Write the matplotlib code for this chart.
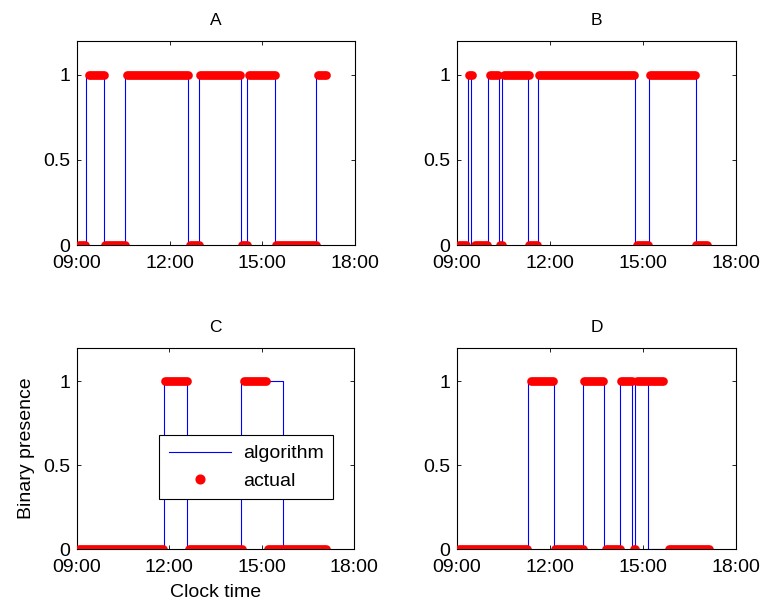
import numpy as np
import matplotlib.pyplot as plt
from matplotlib.lines import Line2D

plt.rcParams['font.family'] = ['Liberation Sans', 'DejaVu Sans']

# Algorithm output: change times (hours) and state held from each time
A_alg_t = [9.0, 9.30, 9.86, 10.55, 12.60, 12.95, 14.31, 14.50, 15.41, 16.75, 17.08]
A_alg_s = [0, 1, 0, 1, 0, 1, 0, 1, 0, 1, 1]
B_alg_t = [9.0, 9.34, 9.45, 10.01, 10.35, 10.46, 11.30, 11.60, 14.74, 15.19, 16.69, 17.07]
B_alg_s = [0, 1, 0, 1, 0, 1, 0, 1, 0, 1, 0, 0]
C_alg_t = [9.0, 11.81, 12.58, 14.33, 15.68, 17.08]
C_alg_s = [0, 1, 0, 1, 0, 0]
D_alg_t = [9.0, 11.30, 12.11, 13.05, 13.73, 14.24, 14.63, 14.73, 15.14, 17.13]
D_alg_s = [0, 1, 0, 1, 0, 1, 0, 1, 0, 0]

# Actual presence: runs of samples (start, end, state)
A_act_start = [9.05, 9.38, 9.90, 10.61, 12.66, 13.00, 14.35, 14.56, 15.44, 16.80]
A_act_end = [9.27, 9.87, 10.56, 12.61, 12.96, 14.28, 14.51, 15.40, 16.74, 17.06]
A_act_s = [0, 1, 0, 1, 0, 1, 0, 1, 0, 1]
B_act_start = [9.05, 9.38, 9.58, 10.06, 10.37, 10.50, 11.33, 11.63, 14.79, 15.22, 16.70]
B_act_end = [9.28, 9.47, 9.98, 10.33, 10.46, 11.31, 11.57, 14.70, 15.15, 16.66, 17.07]
B_act_s = [0, 1, 0, 1, 0, 1, 0, 1, 0, 1, 0]
C_act_start = [9.05, 11.85, 12.63, 14.41, 15.19]
C_act_end = [11.79, 12.57, 14.35, 15.15, 17.08]
C_act_s = [0, 1, 0, 1, 0]
D_act_start = [9.05, 11.37, 12.15, 13.10, 13.79, 14.28, 14.70, 14.79, 15.83]
D_act_end = [11.27, 12.10, 13.05, 13.72, 14.24, 14.64, 14.75, 15.63, 17.13]
D_act_s = [0, 1, 0, 1, 0, 1, 0, 1, 0]

titles = ['A', 'B', 'C', 'D']
x_ticks = [9, 12, 15, 18]
x_ticklabels = ['09:00', '12:00', '15:00', '18:00']
y_ticks = [0, 0.5, 1]
y_ticklabels = ['0', '0.5', '1']

panels = [
    (A_alg_t, A_alg_s, A_act_start, A_act_end, A_act_s),
    (B_alg_t, B_alg_s, B_act_start, B_act_end, B_act_s),
    (C_alg_t, C_alg_s, C_act_start, C_act_end, C_act_s),
    (D_alg_t, D_alg_s, D_act_start, D_act_end, D_act_s),
]

fig = plt.figure(figsize=(7.63, 6.02), dpi=100)
boxes = [
    [0.101, 0.593, 0.364, 0.339],
    [0.599, 0.593, 0.366, 0.339],
    [0.101, 0.088, 0.363, 0.334],
    [0.599, 0.088, 0.366, 0.334],
]

dot_w = 6.3  # width of the red sample band, points

for i, (alg_t, alg_s, a0, a1, a_s) in enumerate(panels):
    ax = fig.add_axes(boxes[i])
    ax.step(alg_t, alg_s, where='post', color='b', lw=0.8, zorder=2)
    for t0, t1, s in zip(a0, a1, a_s):
        ax.plot([t0, t1], [s, s], color='r', lw=dot_w,
                solid_capstyle='round', zorder=3)
    ax.set_xlim(9, 18)
    ax.set_ylim(0, 1.2)
    ax.set_xticks(x_ticks)
    ax.set_xticklabels(x_ticklabels)
    ax.set_yticks(y_ticks)
    ax.set_yticklabels(y_ticklabels)
    ax.tick_params(direction='in', length=3, width=0.6, labelsize=14,
                   top=True, right=True)
    ax.tick_params(axis='x', pad=7)
    ax.tick_params(axis='y', pad=5)
    for sp in ax.spines.values():
        sp.set_linewidth(0.8)
    ax.set_title(titles[i], fontsize=12.5, pad=11.5)

    if i == 2:
        ax.set_xlabel('Clock time', fontsize=14, labelpad=6)
        ax.set_ylabel('Binary presence', fontsize=14, labelpad=6)
        handles = [
            Line2D([], [], color='b', lw=0.8),
            Line2D([], [], color='r', marker='o', ls='none', markersize=6.3),
        ]
        leg = ax.legend(handles, ['algorithm', 'actual'], loc='upper left',
                        bbox_to_anchor=(0.296, 0.567), fontsize=14,
                        frameon=True, fancybox=False, framealpha=1,
                        edgecolor='k', handlelength=3.2, borderpad=0.5,
                        labelspacing=0.5, handletextpad=0.6,
                        borderaxespad=0)
        leg.get_frame().set_linewidth(0.8)

fig.savefig('out.png', dpi=100)
